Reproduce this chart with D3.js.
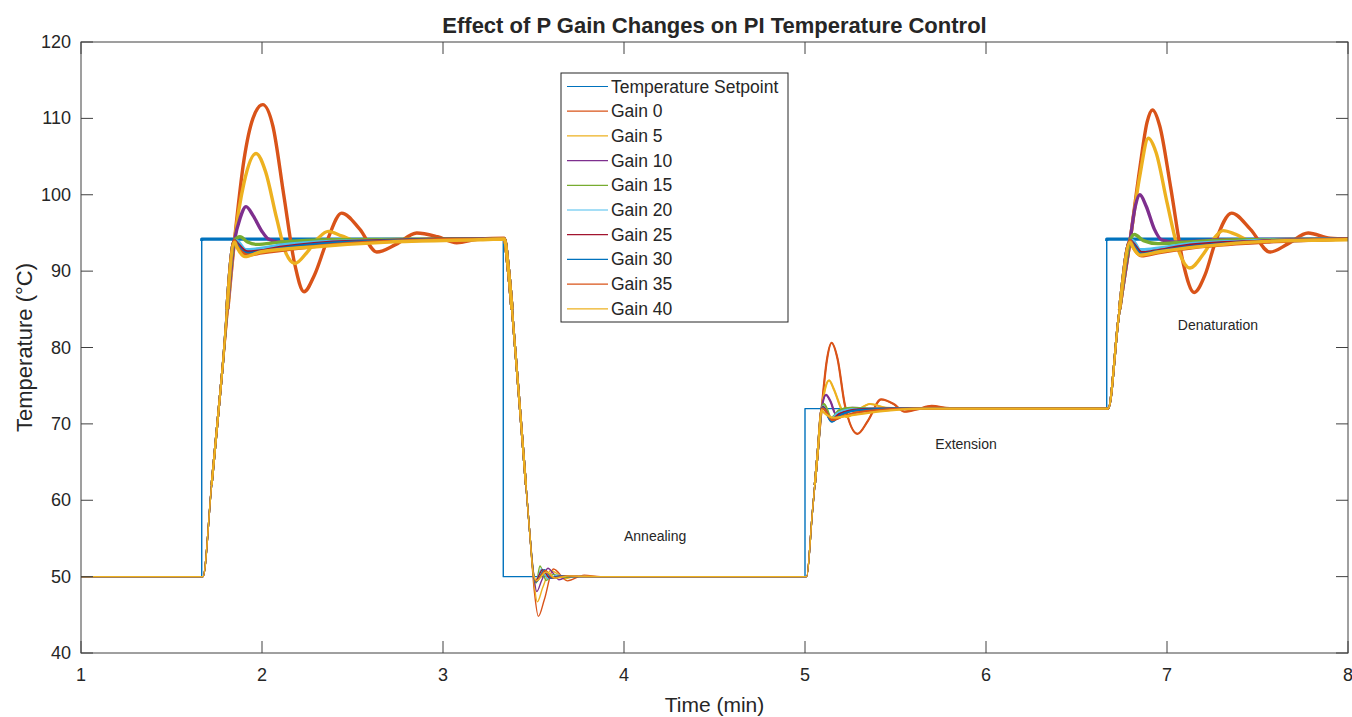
<!DOCTYPE html>
<html>
<head>
<meta charset="utf-8">
<script src="https://d3js.org/d3.v7.min.js"></script>
<style>
  body { margin: 0; background: #fff; }
  text { font-family: Arial, "Liberation Sans", Helvetica, sans-serif; fill: #262626; }
</style>
</head>
<body>
<svg id="chart" width="1352" height="717"></svg>
<script>
// ---- data (time in min, temperature in degC) ----
const seriesNames = ["Temperature Setpoint", "Gain 0", "Gain 5", "Gain 10", "Gain 15",
                     "Gain 20", "Gain 25", "Gain 30", "Gain 35", "Gain 40"];
const seriesColors = ["#0072BD", "#D95319", "#EDB120", "#7E2F8E", "#77AC30",
                      "#4DBEEE", "#A2142F", "#0072BD", "#D95319", "#EDB120"];
const xTicks = [1, 2, 3, 4, 5, 6, 7, 8];
const yTicks = [40, 50, 60, 70, 80, 90, 100, 110, 120];

const setpoint = [[1, 50], [1.667, 94.2], [3.333, 50], [5, 72], [6.667, 94.2], [8, 94.2]];

// shared parts of every response (all gains overlap here)
const hold1 = [[1, 50], [1.674, 50], [1.72, 61.6], [1.78, 76.8]];
const fall2 = [[3.36, 90.5], [3.40, 79.5], [3.44, 67.5], [3.48, 55.5]];
const ramp3 = [[5.009, 50], [5.04, 58.2], [5.07, 66.2]];
const ramp4 = [[6.675, 72], [6.731, 83.6]];

const gain0 = [...hold1,
  [1.848, 94], [1.90, 104.5], [1.95, 110], [2.004, 111.8], [2.06, 109], [2.12, 100], [2.18, 91],
  [2.232, 87.3], [2.29, 89.5], [2.36, 94], [2.44, 97.6], [2.54, 95.5], [2.634, 92.5], [2.74, 93.5],
  [2.855, 95.0], [2.97, 94.5], [3.076, 93.7], [3.2, 94.2], [3.339, 94.3],
  ...fall2, [3.505, 48], [3.527, 44.8], [3.56, 47], [3.61, 51.0], [3.687, 49.45], [3.78, 50.2], [3.87, 50],
  ...ramp3, [5.092, 72], [5.12, 78.2], [5.147, 80.6], [5.18, 78.5], [5.22, 72.5], [5.29, 68.7],
  [5.35, 70.5], [5.42, 73.2], [5.49, 72.6], [5.55, 71.6], [5.62, 71.9], [5.70, 72.35], [5.8, 72.05],
  ...ramp4, [6.796, 94], [6.85, 103.5], [6.89, 109.5], [6.92, 111.1], [6.96, 109], [7.02, 101],
  [7.09, 91], [7.15, 87.2], [7.21, 89.5], [7.27, 94], [7.357, 97.6], [7.46, 95.5], [7.569, 92.5],
  [7.67, 93.6], [7.78, 95.0], [7.9, 94.3], [8, 94.2]];

const gain5 = [...hold1,
  [1.848, 94], [1.90, 101.5], [1.967, 105.4], [2.02, 103], [2.08, 97], [2.13, 92.5], [2.182, 91.0],
  [2.25, 92.5], [2.31, 94.3], [2.366, 95.2], [2.44, 94.6], [2.54, 93.9], [2.7, 94.1], [3.339, 94.2],
  ...fall2, [3.50, 50], [3.521, 46.7], [3.55, 48.5], [3.595, 50.8], [3.63, 50.4], [3.67, 49.7],
  [3.74, 50.1], [3.85, 50],
  ...ramp3, [5.092, 72], [5.11, 74.5], [5.133, 75.7], [5.16, 74.5], [5.20, 72], [5.23, 70.9],
  [5.28, 71.6], [5.36, 72.6], [5.45, 72.1], [5.6, 72],
  ...ramp4, [6.796, 94], [6.85, 102.5], [6.897, 107.4], [6.94, 105.5], [7.0, 99], [7.06, 93],
  [7.127, 90.4], [7.2, 92.2], [7.26, 94.3], [7.31, 95.3], [7.38, 94.8], [7.47, 93.9], [7.6, 94.0], [8, 94.2]];

const gain10 = [...hold1,
  [1.848, 94], [1.88, 97], [1.912, 98.45], [1.95, 97.3], [2.0, 95.2], [2.035, 94.2], [2.1, 93.8],
  [2.3, 94.0], [3.339, 94.2],
  ...fall2, [3.50, 50.5], [3.518, 48.05], [3.545, 49.5], [3.58, 51.1], [3.61, 50.4], [3.64, 49.6],
  [3.7, 50.1], [3.8, 50],
  ...ramp3, [5.092, 72], [5.116, 73.8], [5.14, 73], [5.17, 71.3], [5.21, 71.6], [5.26, 72.1], [5.35, 72],
  ...ramp4, [6.796, 94], [6.825, 98.5], [6.85, 100], [6.885, 98.5], [6.93, 95.5], [6.97, 94.1],
  [7.05, 93.8], [7.3, 94.1], [8, 94.2]];

const gain15 = [...hold1,
  [1.848, 94], [1.878, 94.5], [1.92, 93.8], [1.97, 93.5], [2.1, 93.8], [2.4, 94.1], [3.339, 94.2],
  ...fall2, [3.50, 50.5], [3.514, 49.15], [3.536, 51.4], [3.57, 49.5], [3.61, 50.3], [3.66, 49.9], [3.75, 50],
  ...ramp3, [5.092, 72], [5.105, 72.6], [5.145, 70.8], [5.19, 71.8], [5.25, 72.1], [5.35, 72],
  ...ramp4, [6.796, 94], [6.82, 94.8], [6.87, 94.0], [6.95, 93.6], [7.1, 93.8], [7.4, 94.1], [8, 94.2]];

const gain20 = [...hold1,
  [1.848, 94], [1.865, 93.9], [1.91, 92.8], [1.97, 92.9], [2.1, 93.4], [2.4, 93.9], [3, 94.1], [3.339, 94.2],
  ...fall2, [3.50, 50.3], [3.512, 49.4], [3.545, 51.0], [3.58, 49.7], [3.63, 50.2], [3.7, 50],
  ...ramp3, [5.092, 72], [5.10, 72.3], [5.14, 70.6], [5.18, 71.4], [5.25, 71.9], [5.4, 72],
  ...ramp4, [6.796, 94], [6.81, 94], [6.85, 92.8], [6.92, 92.9], [7.1, 93.5], [7.4, 93.9], [8, 94.2]];

const gain25 = [...hold1,
  [1.848, 94], [1.86, 93.7], [1.92, 92.5], [1.98, 92.6], [2.1, 93.1], [2.5, 93.9], [3.339, 94.2],
  ...fall2, [3.50, 50.3], [3.512, 49.5], [3.55, 50.9], [3.59, 49.8], [3.65, 50.1], [3.7, 50],
  ...ramp3, [5.092, 72], [5.10, 72.2], [5.145, 70.5], [5.19, 71.3], [5.3, 71.9], [5.45, 72],
  ...ramp4, [6.796, 94], [6.81, 93.7], [6.86, 92.4], [6.93, 92.6], [7.1, 93.3], [7.5, 93.9], [8, 94.2]];

const gain30 = [...hold1,
  [1.848, 94], [1.86, 93.5], [1.92, 92.3], [1.99, 92.5], [2.15, 93.1], [2.5, 93.8], [3.339, 94.2],
  ...fall2, [3.50, 50.2], [3.515, 49.3], [3.56, 50.9], [3.60, 49.8], [3.66, 50.1], [3.72, 50],
  ...ramp3, [5.092, 72], [5.10, 72.1], [5.147, 70.3], [5.2, 71.2], [5.3, 71.8], [5.5, 72],
  ...ramp4, [6.796, 94], [6.81, 93.5], [6.86, 92.2], [6.94, 92.5], [7.1, 93.1], [7.5, 93.8], [8, 94.2]];

const gain35 = [...hold1,
  [1.848, 94], [1.86, 93.3], [1.92, 92.1], [2.0, 92.4], [2.2, 93.0], [2.6, 93.8], [3.339, 94.2],
  ...fall2, [3.50, 50.2], [3.515, 49.4], [3.565, 50.8], [3.61, 49.8], [3.68, 50.1], [3.75, 50],
  ...ramp3, [5.092, 72], [5.10, 72.0], [5.15, 70.5], [5.22, 71.1], [5.35, 71.7], [5.6, 72],
  ...ramp4, [6.796, 94], [6.81, 93.3], [6.86, 92.0], [6.95, 92.4], [7.15, 93.1], [7.55, 93.8], [8, 94.2]];

const gain40 = [...hold1,
  [1.848, 93.8], [1.86, 93.2], [1.906, 91.9], [1.99, 92.5], [2.3, 93.2], [2.7, 93.8], [3.2, 94.1], [3.339, 94.2],
  ...fall2, [3.50, 50.2], [3.518, 49.5], [3.57, 50.6], [3.62, 49.8], [3.7, 50.1], [3.8, 50],
  ...ramp3, [5.092, 71.8], [5.10, 71.6], [5.16, 70.8], [5.25, 71.1], [5.4, 71.6], [5.65, 72],
  ...ramp4, [6.796, 93.8], [6.81, 93.2], [6.85, 92.1], [6.95, 92.5], [7.18, 93.2], [7.55, 93.9], [8, 94.1]];

const responses = [gain0, gain5, gain10, gain15, gain20, gain25, gain30, gain35, gain40];

const notes = [
  {text: "Annealing", t: 4.0, v: 54.6},
  {text: "Extension", t: 5.72, v: 66.7},
  {text: "Denaturation", t: 7.06, v: 82.3}
];

// ---- layout ----
const plot = {left: 81, right: 1348, top: 42, bottom: 653};
const axisColor = "#404040";
const tickLen = 12;

const svg = d3.select("#chart");
const x = d3.scaleLinear().domain([1, 8]).range([plot.left, plot.right]);
const y = d3.scaleLinear().domain([40, 120]).range([plot.bottom, plot.top]);

svg.append("rect").attr("width", 1352).attr("height", 717).attr("fill", "#fff");

const defs = svg.append("defs");
function bandClip(id, lo, hi) {
  defs.append("clipPath").attr("id", id).append("rect")
    .attr("x", plot.left).attr("y", y(hi))
    .attr("width", plot.right - plot.left).attr("height", y(lo) - y(hi));
}
bandClip("plotClip", 40, 120);
// measurement noise grows with temperature, so the traces look thicker up there
bandClip("warmClip", 62, 85);
bandClip("hotClip", 85, 120);
bandClip("spClip", 93.95, 94.5);

const lineGen = d3.line().x(d => x(d[0])).y(d => y(d[1])).curve(d3.curveMonotoneX);
const stepGen = d3.line().x(d => x(d[0])).y(d => y(d[1])).curve(d3.curveStepAfter);

const lines = svg.append("g").attr("clip-path", "url(#plotClip)");

function trace(d, col, width, clip) {
  const g = clip ? lines.append("g").attr("clip-path", `url(#${clip})`) : lines;
  g.append("path")
    .attr("d", d)
    .attr("fill", "none")
    .attr("stroke", col)
    .attr("stroke-width", width)
    .attr("stroke-linejoin", "round");
}

trace(stepGen(setpoint), seriesColors[0], 1.4, null);
trace(stepGen(setpoint), seriesColors[0], 3.2, "spClip");

responses.forEach((pts, i) => {
  const col = seriesColors[i + 1];
  const d = lineGen(pts);
  trace(d, col, 1.4, null);
  trace(d, col, 2.2, "warmClip");
  trace(d, col, 3.4, "hotClip");
});

// ---- axes box with inward ticks ----
const axes = svg.append("g");
axes.append("rect")
  .attr("x", plot.left).attr("y", plot.top)
  .attr("width", plot.right - plot.left).attr("height", plot.bottom - plot.top)
  .attr("fill", "none").attr("stroke", axisColor).attr("stroke-width", 1);

xTicks.forEach(t => {
  axes.append("line").attr("x1", x(t)).attr("x2", x(t))
    .attr("y1", plot.bottom).attr("y2", plot.bottom - tickLen)
    .attr("stroke", axisColor);
  axes.append("line").attr("x1", x(t)).attr("x2", x(t))
    .attr("y1", plot.top).attr("y2", plot.top + tickLen)
    .attr("stroke", axisColor);
  axes.append("text").attr("x", x(t)).attr("y", plot.bottom + 28)
    .attr("text-anchor", "middle").attr("font-size", 18).text(t);
});

yTicks.forEach(v => {
  axes.append("line").attr("x1", plot.left).attr("x2", plot.left + tickLen)
    .attr("y1", y(v)).attr("y2", y(v)).attr("stroke", axisColor);
  axes.append("line").attr("x1", plot.right).attr("x2", plot.right - tickLen)
    .attr("y1", y(v)).attr("y2", y(v)).attr("stroke", axisColor);
  axes.append("text").attr("x", plot.left - 10).attr("y", y(v) + 6)
    .attr("text-anchor", "end").attr("font-size", 18).text(v);
});

// ---- labels ----
svg.append("text").attr("x", (plot.left + plot.right) / 2).attr("y", 33)
  .attr("text-anchor", "middle").attr("font-size", 22).attr("font-weight", "bold")
  .text("Effect of P Gain Changes on PI Temperature Control");

svg.append("text").attr("x", (plot.left + plot.right) / 2).attr("y", 712)
  .attr("text-anchor", "middle").attr("font-size", 21).text("Time (min)");

svg.append("text").attr("transform", `translate(32,${(plot.top + plot.bottom) / 2}) rotate(-90)`)
  .attr("text-anchor", "middle").attr("font-size", 22).text("Temperature (°C)");

notes.forEach(n => {
  svg.append("text").attr("x", x(n.t)).attr("y", y(n.v))
    .attr("font-size", 14).text(n.text);
});

// ---- legend ----
const legend = svg.append("g").attr("transform", "translate(561,73)");
legend.append("rect").attr("width", 227).attr("height", 249)
  .attr("fill", "#fff").attr("stroke", "#262626").attr("stroke-width", 1);
seriesNames.forEach((name, i) => {
  const ry = 13.5 + i * 24.7;
  legend.append("line").attr("x1", 6).attr("x2", 47).attr("y1", ry).attr("y2", ry)
    .attr("stroke", seriesColors[i]).attr("stroke-width", 1.2);
  legend.append("text").attr("x", 50).attr("y", ry + 6)
    .attr("font-size", 17.5).text(name);
});
</script>
</body>
</html>
